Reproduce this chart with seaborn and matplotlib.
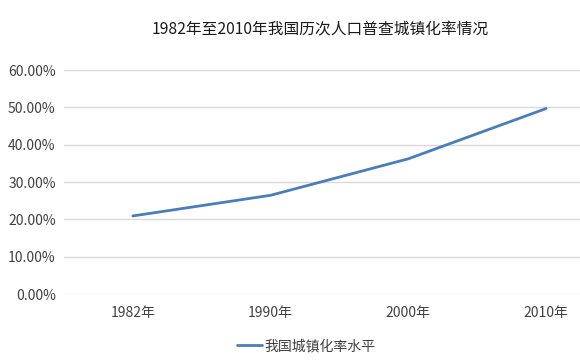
import pandas as pd
import matplotlib
matplotlib.use("Agg")
import matplotlib.pyplot as plt
import seaborn as sns
from matplotlib.ticker import PercentFormatter

# Census years and urbanisation rate (%)
years = ["1982年", "1990年", "2000年", "2010年"]
urban_rate = [20.91, 26.44, 36.22, 49.68]
series_name = "我国城镇化率水平"
title = "1982年至2010年我国历次人口普查城镇化率情况"

sns.set_theme(style="white")
plt.rcParams['font.family'] = ['Noto Sans CJK SC', 'DejaVu Sans']

df = pd.DataFrame({"year": years, "rate": urban_rate, "series": series_name})
df["pos"] = range(len(df))

line_color = "#4A7EBB"

fig = plt.figure(figsize=(5.8, 3.64), dpi=100)
# plot area runs past the right edge of the image, as in the reference
ax = fig.add_axes([64 / 580, 1 - 294 / 364, (615 - 64) / 580, (294 - 70) / 364])

sns.lineplot(data=df, x="pos", y="rate", hue="series", palette=[line_color],
             linewidth=2.0, ax=ax, legend=False)

ax.set_xlim(-0.5, len(years) - 0.5)
ax.set_ylim(0, 60)
ax.set_yticks([0, 10, 20, 30, 40, 50, 60])
ax.yaxis.set_major_formatter(PercentFormatter(decimals=2))
ax.set_xticks(df["pos"])
ax.set_xticklabels(years)
ax.grid(axis="y", color="#D9D9D9", linewidth=1)
ax.set_axisbelow(True)
for s in ax.spines.values():
    s.set_visible(False)
ax.tick_params(axis="both", length=0, labelsize=10, labelcolor="#404040")
ax.tick_params(axis="x", pad=9)
ax.tick_params(axis="y", pad=6)
ax.set_xlabel("")
ax.set_ylabel("")

fig.text(320 / 580, 1 - 30 / 364, title, ha="center", va="center",
         fontsize=11.3, color="#1a1a1a")

# legend at the bottom
fig.legend(handles=[plt.Line2D([], [], color=line_color, linewidth=2.0)],
           labels=[series_name], loc="center", bbox_to_anchor=(306 / 580, 1 - 346 / 364),
           frameon=False, fontsize=10, handlelength=1.8, handletextpad=0.2,
           labelcolor="#404040")

fig.savefig("out.png", dpi=100)
